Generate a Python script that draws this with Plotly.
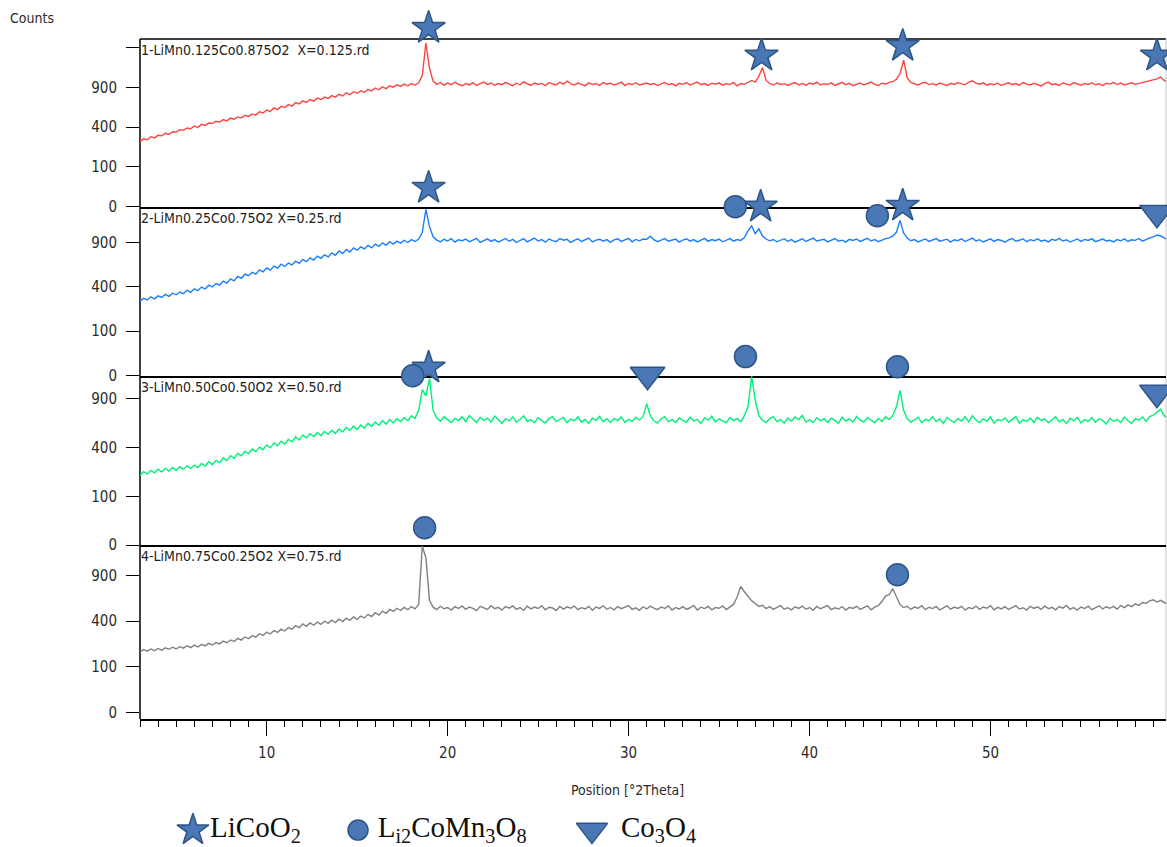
import numpy as np
import plotly.graph_objects as go

# 2-theta scan grid (degrees), 0.2 deg step
two_theta = np.round(np.arange(3.0, 59.81, 0.2), 1)

# Measured intensities (counts), one row = 2 degrees
counts_x0125 = [
    268, 291, 283, 310, 299, 322, 318, 341, 330, 356,
    352, 375, 369, 392, 384, 411, 398, 429, 418, 443,
    438, 462, 451, 480, 466, 497, 484, 510, 499, 528,
    516, 545, 531, 570, 556, 592, 575, 618, 597, 637,
    622, 660, 641, 688, 670, 709, 690, 728, 706, 747,
    728, 761, 743, 782, 760, 801, 777, 822, 795, 838,
    815, 852, 831, 874, 850, 893, 866, 910, 884, 927,
    905, 941, 917, 952, 926, 960, 938, 972, 1090, 1700,
    1210, 1000, 948, 978, 936, 969, 944, 982, 950, 927,
    962, 940, 975, 931, 958, 985, 947, 970, 935, 961,
    944, 979, 952, 928, 966, 942, 988, 955, 933, 970,
    948, 963, 930, 975, 957, 940, 981, 952, 999, 960,
    937, 968, 949, 925, 971, 946, 960, 932, 977, 951,
    966, 940, 957, 983, 929, 962, 945, 974, 938, 956,
    970, 947, 962, 930, 955, 978, 942, 960, 926, 965,
    949, 976, 938, 957, 984, 944, 961, 931, 967, 950,
    972, 936, 958, 945, 979, 927, 962, 949, 975, 1010,
    985, 1080, 1230, 1010, 962, 938, 970, 947, 960, 931,
    958, 977, 940, 963, 932, 969, 951, 984, 939, 960,
    946, 972, 933, 957, 980, 942, 965, 928, 954, 971,
    940, 962, 983, 948, 931, 967, 955, 976, 990, 1030,
    1120, 1360, 1050, 978, 955, 940, 968, 982, 945, 960,
    937, 970, 952, 929, 964, 948, 975, 958, 941, 985,
    1005, 968, 950, 973, 936, 958, 944, 967, 930, 955,
    972, 946, 961, 935, 979, 952, 940, 966, 948, 925,
    960, 983, 944, 957, 931, 970, 953, 939, 976, 950,
    935, 962, 948, 974, 941, 958, 929, 966, 952, 980,
    945, 968, 938, 957, 972, 949, 963, 984, 990, 1005,
    1020, 1035, 1065, 1010, 985,
]

counts_x025 = [
    281, 303, 290, 315, 298, 322, 309, 334, 318, 344,
    331, 354, 340, 369, 351, 382, 365, 397, 380, 414,
    398, 429, 415, 452, 433, 474, 455, 499, 480, 521,
    505, 541, 522, 566, 545, 587, 563, 607, 584, 628,
    603, 641, 620, 663, 639, 684, 657, 703, 676, 724,
    697, 739, 714, 762, 733, 786, 754, 806, 773, 826,
    796, 838, 812, 857, 826, 876, 845, 893, 860, 908,
    876, 915, 889, 928, 897, 936, 910, 944, 1040, 1400,
    1120, 975, 930, 905, 941, 918, 950, 902, 934, 921,
    944, 908, 931, 955, 899, 927, 946, 912, 938, 903,
    930, 952, 914, 939, 897, 925, 949, 906, 932, 958,
    917, 936, 901, 944, 923, 909, 951, 928, 940, 898,
    926, 947, 911, 935, 958, 904, 929, 942, 915, 937,
    900, 933, 948, 912, 927, 953, 906, 939, 920, 945,
    940, 985, 936, 909, 930, 951, 914, 926, 943, 902,
    931, 948, 916, 937, 905, 929, 954, 913, 938, 921,
    944, 907, 932, 950, 915, 938, 926, 965, 1060, 1135,
    1020, 1090, 985, 945, 920, 938, 907, 931, 949, 914,
    936, 902, 927, 948, 911, 933, 957, 918, 929, 941,
    906, 934, 952, 915, 929, 903, 940, 925, 946, 912,
    932, 955, 917, 938, 908, 929, 951, 960, 985, 1040,
    1220, 1030, 958, 921, 937, 905, 930, 946, 912, 934,
    951, 916, 928, 943, 902, 935, 922, 949, 910, 931,
    957, 918, 936, 904, 929, 947, 913, 938, 925, 901,
    933, 952, 914, 927, 945, 908, 936, 921, 948, 915,
    930, 906, 941, 924, 953, 917, 935, 903, 928, 946,
    912, 939, 925, 950, 909, 932, 944, 918, 927, 905,
    938, 920, 947, 911, 934, 926, 952, 915, 943, 960,
    975, 998, 990, 955, 930,
]

counts_x050 = [
    205, 226, 212, 234, 219, 241, 224, 247, 230, 252,
    233, 258, 240, 263, 246, 268, 252, 279, 262, 291,
    271, 301, 285, 318, 300, 334, 315, 352, 333, 369,
    349, 386, 366, 402, 381, 420, 396, 437, 413, 452,
    428, 468, 447, 489, 462, 508, 481, 519, 493, 531,
    501, 541, 513, 552, 522, 564, 535, 578, 549, 592,
    559, 603, 574, 620, 588, 634, 601, 648, 612, 659,
    624, 668, 638, 679, 647, 700, 672, 760, 1010, 930,
    1160, 760, 676, 641, 688, 655, 629, 671, 649, 690,
    637, 702, 660, 628, 683, 651, 674, 633, 696, 657,
    620, 669, 645, 688, 631, 662, 698, 640, 657, 626,
    679, 648, 623, 670, 690, 638, 659, 681, 627, 664,
    645, 689, 632, 660, 619, 675, 652, 693, 636, 668,
    628, 672, 649, 688, 630, 661, 640, 683, 655, 690,
    835, 700, 646, 622, 668, 691, 637, 659, 628, 676,
    650, 631, 686, 644, 662, 617, 678, 653, 695, 634,
    667, 642, 626, 681, 648, 671, 635, 700, 800, 1190,
    880, 700, 652, 627, 669, 690, 638, 658, 621, 675,
    644, 686, 660, 702, 633, 655, 628, 679, 646, 668,
    630, 673, 651, 620, 684, 642, 666, 631, 692, 653,
    635, 678, 648, 625, 670, 640, 689, 660, 700, 800,
    1000, 760, 668, 632, 655, 684, 627, 662, 645, 690,
    638, 666, 619, 681, 650, 628, 672, 643, 690, 634,
    700, 655, 627, 669, 641, 686, 623, 660, 647, 677,
    632, 663, 690, 621, 658, 639, 675, 629, 684, 648,
    667, 626, 653, 689, 635, 661, 617, 674, 645, 683,
    624, 658, 640, 679, 631, 667, 650, 612, 672, 639,
    661, 629, 684, 646, 620, 668, 652, 687, 640, 690,
    705, 735, 770, 700, 672,
]

counts_x075 = [
    175, 189, 180, 193, 183, 196, 186, 200, 191, 204,
    193, 207, 198, 213, 201, 217, 205, 222, 212, 229,
    218, 234, 225, 244, 233, 252, 241, 263, 251, 273,
    261, 283, 272, 297, 284, 309, 295, 322, 307, 333,
    318, 346, 332, 361, 345, 376, 356, 384, 365, 392,
    372, 399, 381, 408, 388, 417, 396, 426, 407, 437,
    415, 446, 428, 462, 441, 478, 455, 493, 472, 509,
    490, 521, 499, 530, 507, 538, 515, 560, 1330, 1150,
    600, 532, 508, 541, 516, 529, 503, 537, 519, 545,
    511, 534, 520, 498, 540, 525, 509, 546, 517, 530,
    504, 538, 522, 545, 510, 528, 500, 541, 515, 533,
    519, 547, 506, 531, 524, 498, 539, 512, 535, 521,
    543, 508, 527, 514, 540, 502, 533, 520, 546, 511,
    529, 505, 538, 517, 531, 548, 509, 525, 501, 536,
    514, 542, 523, 507, 534, 519, 545, 503, 528, 515,
    537, 510, 526, 549, 504, 532, 518, 540, 506, 529,
    521, 544, 508, 535, 560, 640, 762, 700, 650, 600,
    570, 540, 552, 518, 537, 509, 530, 547, 512, 527,
    505, 536, 520, 543, 511, 528, 501, 539, 516, 532,
    547, 508, 525, 514, 538, 503, 530, 519, 541, 510,
    527, 545, 506, 533, 548, 590, 650, 665, 735, 650,
    560, 528, 541, 509, 535, 520, 546, 507, 531, 518,
    539, 504, 527, 545, 512, 533, 519, 540, 502, 529,
    516, 543, 510, 534, 521, 548, 506, 530, 515, 538,
    509, 532, 547, 513, 526, 503, 541, 520, 535, 511,
    544, 517, 530, 506, 538, 522, 549, 510, 528, 503,
    533, 518, 542, 507, 529, 546, 514, 536, 521, 540,
    512, 548, 527, 555, 538, 566, 549, 580, 572, 598,
    610, 585, 603, 578, 560,
]

sample_labels = [
    "1-LiMn0.125Co0.875O2  X=0.125.rd",
    "2-LiMn0.25Co0.75O2 X=0.25.rd",
    "3-LiMn0.50Co0.50O2 X=0.50.rd",
    "4-LiMn0.75Co0.25O2 X=0.75.rd",
]
sample_colors = ["#ff4343", "#1a7dff", "#00f07a", "#808080"]
sample_counts = [counts_x0125, counts_x025, counts_x050, counts_x075]

# Phase identification marks: panel number, peak position, marker height (counts)
licoo2_panel = [1, 1, 1, 1, 2, 2, 2, 3]
licoo2_2theta = [18.95, 37.35, 45.15, 59.2, 18.95, 37.3, 45.15, 18.95]
licoo2_height = [2025, 1444, 1640, 1444, 1784, 1444, 1460, 1315]

li2comn3o8_panel = [2, 2, 3, 3, 3, 4, 4]
li2comn3o8_2theta = [35.9, 43.75, 18.07, 36.46, 44.86, 18.73, 44.86]
li2comn3o8_height = [1444, 1293, 1199, 1485, 1330, 1640, 910]

co3o4_panel = [2, 3, 3]
co3o4_2theta = [59.2, 31.05, 59.2]
co3o4_height = [1341, 1212, 971]

phase_names = ["LiCoO<sub>2</sub>", "L<sub>i2</sub>CoMn<sub>3</sub>O<sub>8</sub>",
               "Co<sub>3</sub>O<sub>4</sub>"]

# Square-root intensity axis ticks (the 1600 level is an unlabelled tick)
count_ticks = [0, 100, 400, 900]
count_tick_text = ["0", "100", "400", "900"]
top_unlabelled_tick = 1600

for arr in sample_counts:
    assert len(arr) == len(two_theta), len(arr)

NARROW = "Liberation Sans Narrow, DejaVu Sans Condensed, sans-serif"
SERIF = "Liberation Serif, Times New Roman, serif"
MARK_FILL = "#4a78b6"
MARK_EDGE = "#2e5585"
TEXT_COLOR = "#2b2b2b"

phases = [
    dict(symbol="star", size=25, panel=licoo2_panel, x=licoo2_2theta, h=licoo2_height),
    dict(symbol="circle", size=22, panel=li2comn3o8_panel, x=li2comn3o8_2theta, h=li2comn3o8_height),
    dict(symbol="triangle-down", size=30, panel=co3o4_panel, x=co3o4_2theta, h=co3o4_height),
]

# Panel frames (paper fractions) and sqrt(counts) ranges of each frame
frame_domains = [[0.75782, 0.95904], [0.55479, 0.75782], [0.35115, 0.55479], [0.14272, 0.35115]]
frame_ranges = [[-0.05, 42.2], [-0.05, 38.0], [-0.05, 34.6], [-1.5, 36.6]]
# each axis reaches a bit above its frame so the phase marks sit on the same scale
axis_tops = [1.0, 0.80782, 0.60479, 0.40115]

fig = go.Figure()


def axis_suffix(k):
    return "" if k == 1 else str(k)


# Diffraction patterns
for k, (vals, color) in enumerate(zip(sample_counts, sample_colors), start=1):
    s = axis_suffix(k)
    fig.add_trace(go.Scatter(
        x=two_theta, y=np.sqrt(np.array(vals, dtype=float)),
        xaxis="x" + s, yaxis="y" + s, mode="lines",
        line=dict(color=color, width=1.4), hoverinfo="skip", showlegend=False,
    ))

# Phase markers
for ph in phases:
    for k in range(1, 5):
        sel = [i for i, p in enumerate(ph["panel"]) if p == k]
        if not sel:
            continue
        s = axis_suffix(k)
        fig.add_trace(go.Scatter(
            x=[ph["x"][i] for i in sel],
            y=[np.sqrt(ph["h"][i]) for i in sel],
            xaxis="x" + s, yaxis="y" + s, mode="markers", cliponaxis=False,
            marker=dict(symbol=ph["symbol"], size=ph["size"], color=MARK_FILL,
                        line=dict(color=MARK_EDGE, width=1.5)),
            hoverinfo="skip", showlegend=False,
        ))

# Legend row drawn on its own hidden axis
legend_marker_pos = [0.0516, 0.2125, 0.4405]
legend_text_pos = [0.0683, 0.2317, 0.4688]
legend_sizes = [24, 20, 27]
for ph, mx, tx, sz, name in zip(phases, legend_marker_pos, legend_text_pos, legend_sizes, phase_names):
    fig.add_trace(go.Scatter(
        x=[mx], y=[0.5], xaxis="x5", yaxis="y5", mode="markers", cliponaxis=False,
        marker=dict(symbol=ph["symbol"], size=sz, color=MARK_FILL,
                    line=dict(color=MARK_EDGE, width=1.5)),
        hoverinfo="skip", showlegend=False,
    ))
    fig.add_trace(go.Scatter(
        x=[tx], y=[0.5], xaxis="x5", yaxis="y5", mode="text", cliponaxis=False,
        text=[name], textposition="middle right",
        textfont=dict(family=SERIF, size=29, color="#111111"),
        hoverinfo="skip", showlegend=False,
    ))

layout = dict(
    width=1167, height=847,
    margin=dict(l=140, r=1, t=5, b=0),
    paper_bgcolor="white", plot_bgcolor="rgba(0,0,0,0)",
    showlegend=False,
)

tick_font = dict(family=NARROW, size=15, color=TEXT_COLOR)

for k in range(1, 5):
    s = axis_suffix(k)
    d0, d1 = frame_domains[k - 1]
    r0, r1 = frame_ranges[k - 1]
    top = axis_tops[k - 1]
    r_top = r0 + (r1 - r0) * (top - d0) / (d1 - d0)

    xa = dict(
        anchor="y" + s, domain=[0, 1], range=[3.0, 59.7],
        showline=True, linecolor="black", linewidth=1.5,
        showgrid=False, zeroline=False, layer="below traces",
    )
    if k > 1:
        xa["matches"] = "x"
    if k < 4:
        xa.update(ticks="", showticklabels=False)
    else:
        xa.update(
            ticks="outside", ticklen=15, tickwidth=1.3, tickcolor="black",
            tick0=0, dtick=10, showticklabels=True, ticklabelstandoff=4,
            tickfont=tick_font,
            minor=dict(ticks="outside", ticklen=6, tickwidth=1.2, tickcolor="black",
                       tick0=0, dtick=1, showgrid=False),
        )
    layout["xaxis" + s] = xa

    ya = dict(
        anchor="x" + s, domain=[d0, top], range=[r0, r_top],
        tickmode="array", tickvals=[float(np.sqrt(v)) for v in count_ticks],
        ticktext=count_tick_text,
        ticks="outside", ticklen=13, tickwidth=1.3, tickcolor="black",
        ticklabelstandoff=6, tickfont=tick_font,
        showline=False, showgrid=False, zeroline=False, layer="below traces",
    )
    if k == 1:
        ya["minor"] = dict(tickmode="array", tickvals=[float(np.sqrt(top_unlabelled_tick))],
                           ticks="outside", ticklen=13, tickwidth=1.3, tickcolor="black",
                           showgrid=False)
    layout["yaxis" + s] = ya

layout["xaxis5"] = dict(anchor="y5", domain=[0, 1], range=[0, 1], visible=False)
layout["yaxis5"] = dict(anchor="x5", domain=[0, 0.019], range=[0, 1], visible=False)

annotations = [
    dict(text="Counts", xref="paper", yref="paper", x=-0.1287, y=0.98487,
         xanchor="left", yanchor="middle", showarrow=False,
         font=dict(family=NARROW, size=14, color=TEXT_COLOR)),
    dict(text="Position [°2Theta]", xref="paper", yref="paper", x=0.4756, y=0.0575,
         xanchor="center", yanchor="middle", showarrow=False,
         font=dict(family=NARROW, size=14, color=TEXT_COLOR)),
]
for k, label in enumerate(sample_labels, start=1):
    d0, d1 = frame_domains[k - 1]
    annotations.append(dict(
        text=label, xref="paper", yref="paper",
        x=-0.001, y=d1, xanchor="left", yanchor="top", yshift=-1,
        showarrow=False, font=dict(family=NARROW, size=14, color="#222222"),
    ))
layout["annotations"] = annotations

frame_top = frame_domains[0][1]
frame_bottom = frame_domains[3][0]
layout["shapes"] = [
    # top edge of the stack and the shared left axis line
    dict(type="line", xref="paper", yref="paper", x0=0, x1=1, y0=frame_top, y1=frame_top,
         line=dict(color="black", width=1.5), layer="below"),
    dict(type="line", xref="paper", yref="paper", x0=0, x1=0, y0=frame_bottom, y1=frame_top,
         line=dict(color="black", width=1.5), layer="below"),
    dict(type="line", xref="paper", yref="paper", x0=1, x1=1, y0=frame_bottom, y1=frame_top,
         line=dict(color="#c8c8c8", width=1), layer="below"),
]

fig.update_layout(**layout)
fig.write_html("out.html")
